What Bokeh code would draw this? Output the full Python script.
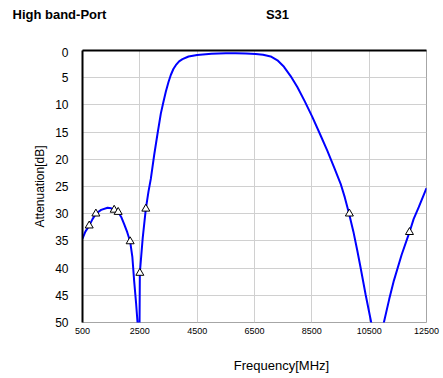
from bokeh.plotting import figure
from bokeh.models import Range1d, FixedTicker, LinearAxis
from bokeh.layouts import column, row
from bokeh.core.properties import value
from bokeh.embed import file_html
from bokeh.resources import INLINE

# Curve data: frequency [MHz] and attenuation [dB]
freq = [500, 600, 734, 850, 967, 1150, 1375, 1500, 1605, 1744, 1850, 1953, 2060, 2162,
        2240, 2301, 2370, 2420, 2460, 2490, 2500, 2600, 2709, 2800, 2883, 2998, 3117,
        3232, 3320, 3406, 3500, 3580, 3670, 3755, 3870, 3988, 4200, 4500, 5000, 5500,
        5845, 6200, 6542, 6800, 7064, 7300, 7528, 7760, 7994, 8250, 8516, 8780, 9039,
        9270, 9505, 9650, 9800, 9950, 10087, 10200, 10374, 10572, 10700, 10800, 10900,
        11013, 11200, 11362, 11630, 11906, 12050, 12230, 12500]
atten = [34.6, 33.3, 32.2, 31.0, 30.0, 29.3, 28.9, 29.0, 29.3, 29.7, 30.6, 31.9, 33.4, 35.1,
         38.0, 42.3, 46.5, 50.0, 58.0, 50.0, 40.9, 34.5, 29.1, 26.0, 23.6, 19.3, 15.3,
         11.6, 9.5, 7.6, 5.8, 4.5, 3.4, 2.7, 2.0, 1.6, 1.1, 0.83, 0.6, 0.5,
         0.5, 0.55, 0.65, 0.8, 1.1, 1.8, 3.0, 4.7, 6.7, 9.3, 12.2, 15.3, 18.4,
         21.4, 24.5, 27.0, 30.0, 33.3, 36.8, 39.9, 44.8, 50.0, 54.0, 58.0, 54.0,
         50.0, 45.7, 42.3, 37.6, 33.4, 31.0, 28.8, 25.3]

# Spec markers
mark_freq = [734, 967, 1605, 1744, 2162, 2500, 2709, 9810, 11906]
mark_att = [32.2, 30.0, 29.3, 29.7, 35.1, 40.9, 29.1, 30.0, 33.4]

x_ticks = [500, 2500, 4500, 6500, 8500, 10500, 12500]
y_ticks = [0, 5, 10, 15, 20, 25, 30, 35, 40, 45, 50]

left_title = "High band-Port"
center_title = "S31"
x_label = "Frequency[MHz]"
y_label = "Attenuation[dB]"

FONT = "Liberation Sans"
W = 443


def blank(height, xr, yr):
    f = figure(width=W, height=height, output_backend="svg", toolbar_location=None,
               x_range=xr, y_range=yr, min_border=0,
               background_fill_color="white", border_fill_color="white")
    f.axis.visible = False
    f.grid.visible = False
    f.outline_line_color = None
    return f


# ---- top strip with the two titles ----
top = blank(47, Range1d(0, W), Range1d(47, 0))
top.text(x=[12], y=[14], text=[left_title], text_font=value(FONT), text_font_style="bold",
         text_font_size="13px", text_baseline="middle", text_align="left", text_color="black")
top.text(x=[277], y=[14], text=[center_title], text_font=value(FONT), text_font_style="bold",
         text_font_size="13px", text_baseline="middle", text_align="center", text_color="black")

# ---- main chart ----
p = figure(width=W, height=297, output_backend="svg", toolbar_location=None,
           x_range=Range1d(500, 12500), y_range=Range1d(50, 0),
           min_border_left=82, min_border_right=17, min_border_top=3, min_border_bottom=22,
           background_fill_color="white", border_fill_color="white")
p.outline_line_color = "#a6a6a6"
p.outline_line_width = 1

p.xaxis.ticker = FixedTicker(ticks=x_ticks)
p.yaxis.ticker = FixedTicker(ticks=y_ticks)
for ax in (p.xaxis, p.yaxis):
    ax.major_tick_line_color = None
    ax.minor_tick_line_color = None
    ax.major_tick_out = 0
    ax.minor_tick_out = 0
    ax.major_tick_in = 0
    ax.minor_tick_in = 0
    ax.major_label_text_font = FONT
    ax.major_label_text_color = "black"

p.xaxis.axis_line_color = None
p.xaxis.major_label_text_font_size = "9px"
p.xaxis.major_label_standoff = 5

p.yaxis.axis_line_color = "black"
p.yaxis.axis_line_width = 2
p.yaxis.major_label_text_font_size = "12px"
p.yaxis.major_label_standoff = 14
p.yaxis.axis_label = y_label
p.yaxis.axis_label_text_font = FONT
p.yaxis.axis_label_text_font_style = "normal"
p.yaxis.axis_label_text_font_size = "12px"
p.yaxis.axis_label_text_color = "black"
p.yaxis.axis_label_standoff = 5

top_axis = LinearAxis(ticker=FixedTicker(ticks=[]), axis_line_color="black", axis_line_width=2,
                      major_tick_line_color=None, minor_tick_line_color=None,
                      major_tick_out=0, minor_tick_out=0, major_label_standoff=0,
                      major_label_text_font_size="0px")
p.add_layout(top_axis, "above")

p.grid.grid_line_color = "#d0d0d0"
p.grid.grid_line_width = 1

p.line(freq, atten, line_color="#0000ff", line_width=2)
p.scatter(mark_freq, mark_att, marker="triangle", size=8, fill_color="white",
          line_color="black", line_width=1)

# ---- bottom strip with the x axis title ----
bottom = blank(34, Range1d(0, W), Range1d(34, 0))
bottom.text(x=[281], y=[21], text=[x_label], text_font=value(FONT),
            text_font_size="13px", text_baseline="middle", text_align="center",
            text_color="black")

layout = column(row(top), p, row(bottom), spacing=0)
open("out.html", "w").write(file_html(layout, INLINE))
